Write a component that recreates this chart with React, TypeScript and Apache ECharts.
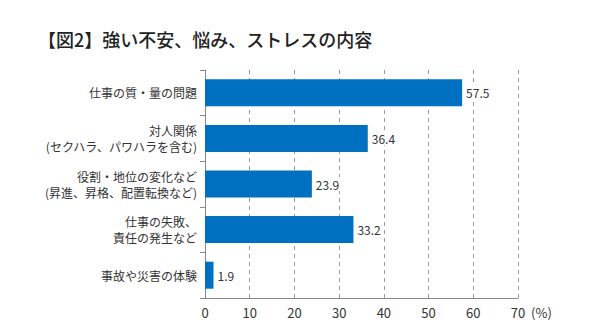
import React, { useEffect, useRef } from "react";
import * as echarts from "echarts";

const title = "【図2】強い不安、悩み、ストレスの内容";
const categories = [
  "仕事の質・量の問題",
  "対人関係\n(セクハラ、パワハラを含む)",
  "役割・地位の変化など\n(昇進、昇格、配置転換など)",
  "仕事の失敗、\n責任の発生など",
  "事故や災害の体験",
];
const values = [57.5, 36.4, 23.9, 33.2, 1.9];
const xTicks = { min: 0, max: 70, interval: 10 };

const FONT = "'Noto Sans CJK JP', 'Noto Sans', sans-serif";

export default function App() {
  const ref = useRef<HTMLDivElement>(null);
  useEffect(() => {
    if (!ref.current) return;
    const chart = echarts.init(ref.current, undefined, { renderer: "svg" });
    chart.setOption({
      animation: false,
      backgroundColor: "#ffffff",
      textStyle: { fontFamily: FONT },
      title: {
        text: title,
        left: 33,
        top: 25,
        textStyle: { fontFamily: FONT, fontSize: 18, fontWeight: 500, color: "#222" },
      },
      grid: { left: 205, right: 82, top: 70, bottom: 25, containLabel: false },
      xAxis: {
        type: "value",
        min: xTicks.min,
        max: xTicks.max,
        interval: xTicks.interval,
        name: "(%)",
        nameLocation: "end",
        nameGap: 6,
        nameTextStyle: {
          fontFamily: FONT,
          fontSize: 13,
          color: "#333",
          verticalAlign: "top",
          padding: [8, 0, 0, 0],
        },
        axisLine: { show: true, lineStyle: { color: "#888", width: 1 } },
        axisTick: { show: false },
        axisLabel: { fontFamily: FONT, fontSize: 13, color: "#333", margin: 8 },
        splitLine: { show: true, lineStyle: { color: "#999", type: [4, 4], width: 1 } },
      },
      yAxis: {
        type: "category",
        data: categories,
        inverse: true,
        axisLine: { show: true, lineStyle: { color: "#888", width: 1 } },
        axisTick: { show: true, length: 5, lineStyle: { color: "#888" } },
        axisLabel: {
          fontFamily: FONT,
          fontSize: 12,
          color: "#333",
          margin: 8,
          lineHeight: 16,
          align: "right",
        },
      },
      series: [
        {
          type: "bar",
          data: values,
          barWidth: 27,
          itemStyle: { color: "#0070C0" },
          label: {
            show: true,
            position: "right",
            distance: 2,
            fontFamily: FONT,
            fontSize: 12,
            color: "#333",
            backgroundColor: "#ffffff",
            padding: [1, 2, 1, 2],
            formatter: (p: any) => p.value.toFixed(1),
          },
        },
      ],
    });
    return () => chart.dispose();
  }, []);
  return <div ref={ref} style={{ width: 600, height: 323, position: "absolute", left: 0, top: 0 }} />;
}
